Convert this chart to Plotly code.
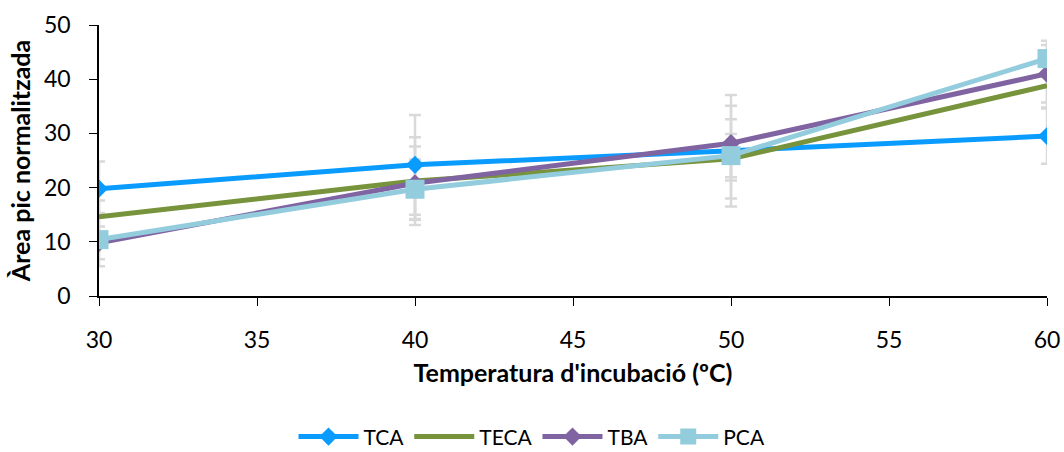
import plotly.graph_objects as go

temps = [30, 40, 50, 60]

tca = [19.8, 24.2, 26.8, 29.5]
teca = [14.6, 21.2, 25.3, 38.8]
tba = [9.8, 20.8, 28.2, 41.0]
pca = [10.4, 19.7, 25.9, 43.8]

tca_err = [5.0, 9.2, 10.3, 5.1]
teca_err = [3.0, 8.1, 7.3, 4.0]
tba_err = [3.0, 6.8, 6.9, 5.3]
pca_err = [4.9, 5.5, 4.0, 3.3]

series = [
    ("TCA", tca, tca_err, "#0A9BFF", "diamond", 14),
    ("TECA", teca, teca_err, "#77933C", None, 0),
    ("TBA", tba, tba_err, "#8064A2", "diamond", 14),
    ("PCA", pca, pca_err, "#93CDDD", "square", 19),
]

fig = go.Figure()

# error bars first so that they sit behind all the lines
for name, vals, errs, color, sym, size in series:
    fig.add_trace(go.Scatter(
        x=temps, y=vals, mode="markers", showlegend=False, hoverinfo="skip",
        marker=dict(color="rgba(0,0,0,0)", size=1),
        error_y=dict(type="data", array=errs, visible=True,
                     color="#D9D9D9", thickness=2.5, width=6),
    ))

for name, vals, errs, color, sym, size in series:
    if sym:
        fig.add_trace(go.Scatter(
            x=temps, y=vals, name=name, mode="lines+markers",
            line=dict(color=color, width=5),
            marker=dict(symbol=sym, size=size, color=color),
        ))
    else:
        fig.add_trace(go.Scatter(
            x=temps, y=vals, name=name, mode="lines",
            line=dict(color=color, width=5),
        ))

font = "Lato, 'Open Sans', sans-serif"
fig.update_layout(
    width=1064, height=452,
    margin=dict(l=99, r=17, t=25, b=156, autoexpand=False),
    paper_bgcolor="white", plot_bgcolor="white",
    font=dict(family=font, size=22, color="#000"),
    xaxis=dict(
        range=[30, 60], tickvals=[30, 35, 40, 45, 50, 55, 60],
        showline=True, linecolor="#000", linewidth=1.5,
        ticks="outside", ticklen=8, tickcolor="#000", showgrid=False,
        zeroline=False, automargin=False, tickfont=dict(size=23),
        ticklabelstandoff=15,
        title=dict(text="<b>Temperatura d'incubació (ºC)</b>",
                   font=dict(size=25), standoff=12),
    ),
    yaxis=dict(
        range=[0, 50], tickvals=[0, 10, 20, 30, 40, 50],
        showline=True, linecolor="#000", linewidth=1.5,
        ticks="outside", ticklen=8, tickcolor="#000", showgrid=False,
        zeroline=False, automargin=False, tickfont=dict(size=23),
        ticklabelstandoff=14,
        title=dict(text="<b>Àrea pic normalitzada</b>",
                   font=dict(size=25), standoff=6),
    ),
    legend=dict(orientation="h", xref="container", x=0.5, xanchor="center",
                y=-0.52, yanchor="middle",
                font=dict(size=21), itemwidth=60),
)

fig.write_html("out.html")
